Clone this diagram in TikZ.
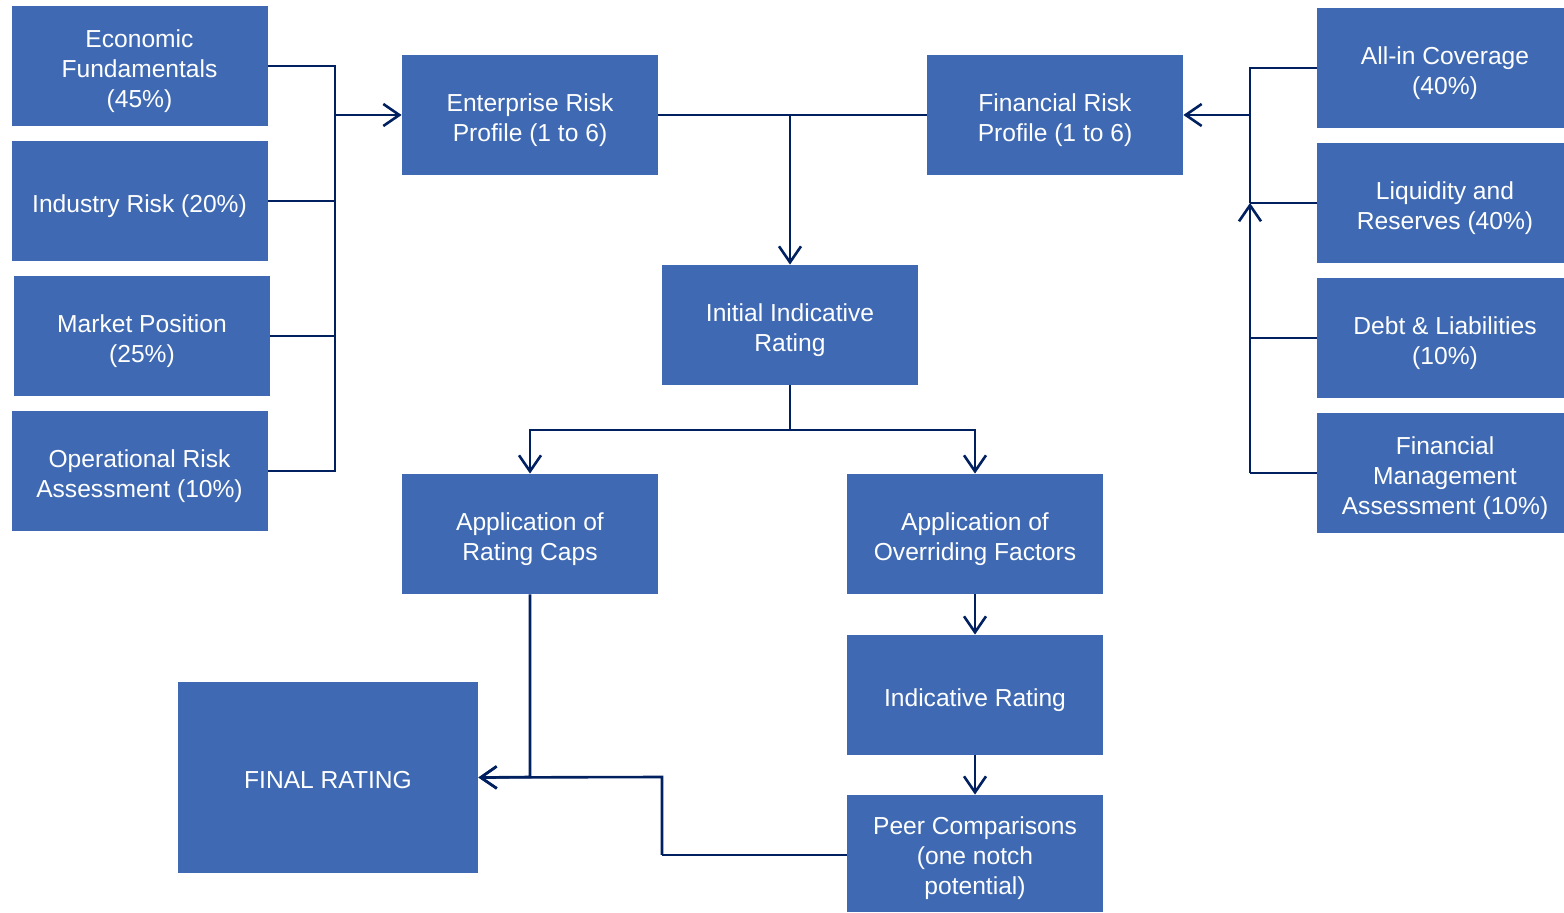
\documentclass[tikz,border=0pt]{standalone}
\usepackage{fontspec}
\setmainfont{Liberation Sans}
\usetikzlibrary{arrows.meta}
\definecolor{boxblue}{HTML}{3F6AB3}
\definecolor{navy}{HTML}{002060}
\newcommand\bxt[1]{\raisebox{-2.6pt}[\height][\depth]{\begin{tabular}{@{}c@{}}#1\end{tabular}}}
\begin{document}
\begin{tikzpicture}[x=0.5pt,y=-0.5pt,
  box/.style={fill=boxblue,draw=none,text=white,inner sep=0pt,
    minimum width=128pt,minimum height=60pt,
    font=\fontsize{12.3pt}{15pt}\selectfont},
  conn/.style={draw=navy,line width=1.3pt},
  arr/.style={conn,-{Straight Barb[length=8pt,width=11pt,line width=1.3pt]}}]
\useasboundingbox (0,0) rectangle (1564,913);
% left column
\node[box] (econ) at (139.5,66) {\bxt{Economic\\Fundamentals\\(45\%)}};
\node[box] (ind) at (139.5,201) {\bxt{Industry Risk (20\%)}};
\node[box] (mkt) at (142,336) {\bxt{Market Position\\(25\%)}};
\node[box] (ops) at (139.5,471) {\bxt{Operational Risk\\Assessment (10\%)}};
% middle
\node[box] (erp) at (530,115) {\bxt{Enterprise Risk\\Profile (1 to 6)}};
\node[box] (frp) at (1055,115) {\bxt{Financial Risk\\Profile (1 to 6)}};
\node[box] (iir) at (790,325) {\bxt{Initial Indicative\\Rating}};
\node[box] (caps) at (530,534) {\bxt{Application of\\Rating Caps}};
\node[box] (over) at (975,534) {\bxt{Application of\\Overriding Factors}};
\node[box] (ir) at (975,695) {\bxt{Indicative Rating}};
\node[box,minimum height=58.5pt] (peer) at (975,853.5) {\bxt{Peer Comparisons\\(one notch\\potential)}};
\node[box,minimum width=150pt,minimum height=95.5pt] (final) at (328,777.5) {\bxt{FINAL RATING}};
% right column
\node[box] (cov) at (1445,68) {\bxt{All-in Coverage\\(40\%)}};
\node[box] (liq) at (1445,203) {\bxt{Liquidity and\\Reserves (40\%)}};
\node[box] (debt) at (1445,338) {\bxt{Debt \& Liabilities\\(10\%)}};
\node[box] (fma) at (1445,473) {\bxt{Financial\\Management\\Assessment (10\%)}};
% coordinates
\coordinate (lb1) at (335,66);
\coordinate (lb2) at (335,201);
\coordinate (lb3) at (335,336);
\coordinate (lb4) at (335,471);
\coordinate (lbm) at (335,115);
\coordinate (rb1) at (1250,68);
\coordinate (rb2) at (1250,203);
\coordinate (rb3) at (1250,338);
\coordinate (rb4) at (1250,473);
\coordinate (rbm) at (1250,115);
\coordinate (top) at (790,115);
\coordinate (split) at (790,430);
\coordinate (capsd) at (530,777);
\coordinate (peerk) at (662,855);
\coordinate (peeru) at (662,777);
% left bus
\draw[conn] (econ.east |- lb1) -- (lb1) -- (lb4) -- (ops.east |- lb4);
\draw[conn] (ind.east |- lb2) -- (lb2);
\draw[conn] (mkt.east |- lb3) -- (lb3);
\draw[arr] (lbm) -- (erp.west);
% right bus
\draw[conn] (cov.west |- rb1) -- (rb1) -- (rbm);
\draw[conn] (liq.west |- rb2) -- (rb2);
\draw[conn] (debt.west |- rb3) -- (rb3);
\draw[conn] (fma.west |- rb4) -- (rb4);
\draw[arr] (rb4) -- (rb2);
\draw[conn] (rb2) -- (rbm);
\draw[arr] (rbm) -- (frp.east);
% top link
\draw[conn] (erp.east) -- (frp.west);
\draw[arr] (top) -- (iir.north);
% split
\draw[conn] (iir.south) -- (split);
\draw[arr] (split) -| (caps.north);
\draw[arr] (split) -| (over.north);
\draw[arr] (over.south) -- (ir.north);
\draw[arr] (ir.south) -- (peer.north);
% to final
\draw[arr] (caps.south) -- (capsd) -- (final.east);
\draw[arr] (peerk) -- (peeru) -- (final.east);
\draw[conn] (peer.west |- peerk) -- (peerk);
\end{tikzpicture}
\end{document}
